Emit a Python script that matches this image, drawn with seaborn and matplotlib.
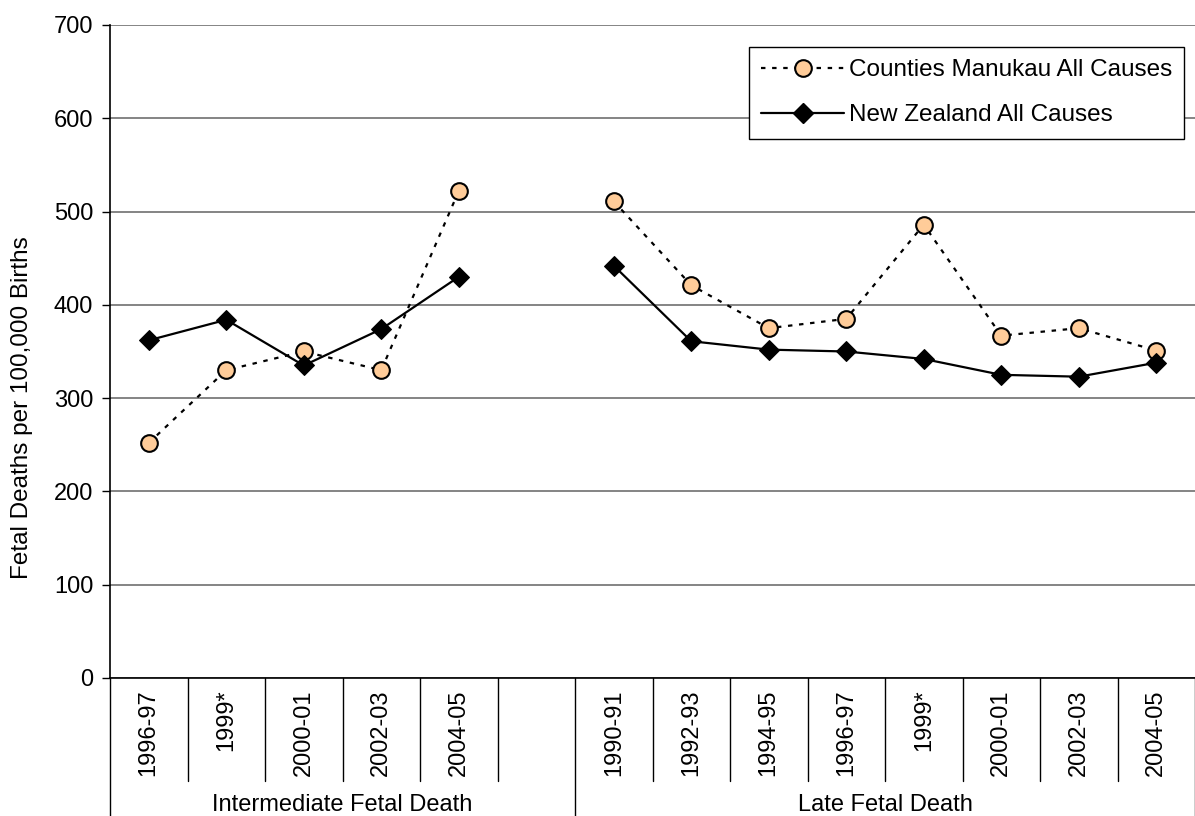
import numpy as np
import pandas as pd
import seaborn as sns
from matplotlib import pyplot as plt
from matplotlib.lines import Line2D
import matplotlib.transforms as mtransforms

# Data
groups = ["Intermediate Fetal Death", "Late Fetal Death"]
periods_intermediate = ["1996-97", "1999*", "2000-01", "2002-03", "2004-05"]
periods_late = ["1990-91", "1992-93", "1994-95", "1996-97", "1999*", "2000-01", "2002-03", "2004-05"]
cm_intermediate = [252, 330, 350, 330, 522]
nz_intermediate = [362, 384, 335, 374, 430]
cm_late = [511, 421, 375, 385, 486, 367, 375, 351]
nz_late = [442, 361, 352, 350, 342, 325, 323, 338]

cm_label = "Counties Manukau All Causes"
nz_label = "New Zealand All Causes"

# category slots: intermediate, one blank slot, late
tick_labels = periods_intermediate + [""] + periods_late
x_inter = list(range(len(periods_intermediate)))
x_late = list(range(len(periods_intermediate) + 1, len(tick_labels)))

rows = []
for x, v in zip(x_inter, cm_intermediate):
    rows.append((x, v, cm_label, groups[0]))
for x, v in zip(x_inter, nz_intermediate):
    rows.append((x, v, nz_label, groups[0]))
for x, v in zip(x_late, cm_late):
    rows.append((x, v, cm_label, groups[1]))
for x, v in zip(x_late, nz_late):
    rows.append((x, v, nz_label, groups[1]))
df = pd.DataFrame(rows, columns=["x", "rate", "series", "group"])

sns.set_style("white")
plt.rcParams['font.family'] = ['Liberation Sans', 'DejaVu Sans']
plt.rcParams['text.color'] = 'black'
plt.rcParams['xtick.color'] = 'black'
plt.rcParams['ytick.color'] = 'black'

fig = plt.figure(figsize=(11.95, 8.16), dpi=100)
ax = fig.add_axes([110 / 1195, 138 / 816, 1085 / 1195, 653 / 816])

peach = "#FFCC99"
styles = {
    cm_label: dict(color="black", linestyle=(0, (2, 3)), linewidth=1.6,
                   marker="o", markersize=12, markerfacecolor=peach,
                   markeredgecolor="black", markeredgewidth=1.5),
    nz_label: dict(color="black", linestyle="-", linewidth=1.6,
                   marker="D", markersize=10, markerfacecolor="black",
                   markeredgecolor="black"),
}

for g in groups:
    for s in [nz_label, cm_label]:
        sub = df[(df["group"] == g) & (df["series"] == s)]
        sns.lineplot(data=sub, x="x", y="rate", ax=ax, estimator=None,
                     legend=False, zorder=3 if s == cm_label else 4, **styles[s])

ax.set_xlim(-0.5, len(tick_labels) - 0.5)
ax.set_ylim(0, 700)
ax.set_yticks(range(0, 701, 100))
ax.yaxis.grid(True, color="#707070", linewidth=1.2)
ax.set_axisbelow(True)

ax.set_xticks(range(len(tick_labels)))
ax.set_xticklabels(tick_labels, rotation=90, fontsize=17, va="top")
ax.tick_params(axis="x", length=0, pad=8, labelcolor="black")
ax.tick_params(axis="y", left=True, length=6, width=1, color="black",
               labelsize=17, pad=6, labelcolor="black")
ax.set_xlabel("")
ax.set_ylabel("")

for side in ["top", "right"]:
    ax.spines[side].set_visible(False)
for side in ["left", "bottom"]:
    ax.spines[side].set_color("black")
    ax.spines[side].set_linewidth(1.2)

# category separators below the axis
trans = mtransforms.blended_transform_factory(ax.transData, ax.transAxes)
n_inter = len(periods_intermediate)
for i in range(len(tick_labels) + 1):
    xb = i - 0.5
    long_line = xb in (-0.5, n_inter + 0.5, len(tick_labels) - 0.5)
    y_end = -0.22 if long_line else -0.157
    ax.plot([xb, xb], [0, y_end], transform=trans, color="black",
            linewidth=1.0, clip_on=False)

# group labels
ax.text((-0.5 + n_inter + 0.5) / 2, -0.195, groups[0], transform=trans,
        ha="center", va="center", fontsize=17)
ax.text((n_inter + 0.5 + len(tick_labels) - 0.5) / 2, -0.195, groups[1],
        transform=trans, ha="center", va="center", fontsize=17)

fig.text(22 / 1195, 1 - 408 / 816, "Fetal Deaths per 100,000 Births",
         rotation=90, ha="center", va="center", fontsize=17.5)

handles = [Line2D([], [], **styles[cm_label]), Line2D([], [], **styles[nz_label])]
leg = ax.legend(handles, [cm_label, nz_label], loc="upper right",
                bbox_to_anchor=(0.990, 0.966), borderaxespad=0,
                fontsize=17.5, frameon=True,
                fancybox=False, edgecolor="black", framealpha=1,
                handlelength=3.4, labelspacing=0.95, borderpad=0.5,
                handletextpad=0.2)
leg.get_frame().set_linewidth(1.0)

fig.savefig("out.png", dpi=100)
